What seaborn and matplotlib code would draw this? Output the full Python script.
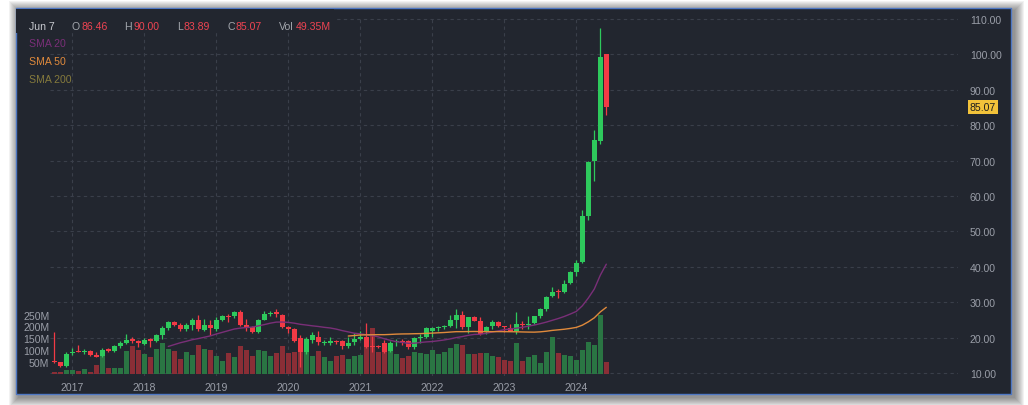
import numpy as np
import pandas as pd
import matplotlib
matplotlib.use("Agg")
import matplotlib.pyplot as plt
import matplotlib.transforms as mtransforms
from matplotlib.patches import Rectangle
import seaborn as sns

# ---------------- data (monthly candles, Oct 2016 .. Jun 2024) ----------------
months = pd.date_range("2016-10-01", "2024-06-01", freq="MS")

opens = [13.5, 13.0, 12.0, 15.6, 16.3, 16.0, 16.3, 15.2, 14.7, 16.8,
         16.3, 17.6, 18.5, 19.5, 18.9, 18.2, 19.5, 18.9, 20.7, 22.7,
         24.3, 23.6, 22.4, 23.6, 25.1, 22.2, 23.6, 22.4, 25.0, 25.9,
         26.0, 27.1, 23.6, 22.9, 21.5, 25.1, 26.8, 27.1, 26.4, 22.9,
         22.4, 19.8, 16.0, 19.3, 20.1, 18.5, 18.5, 18.9, 18.9, 17.5,
         18.7, 19.7, 20.1, 17.6, 17.6, 18.4, 16.3, 18.8, 19.0, 18.9,
         17.3, 19.9, 20.3, 22.0, 22.7, 22.9, 23.4, 25.1, 26.3, 23.1,
         25.7, 24.6, 21.5, 23.2, 24.3, 23.2, 22.8, 22.0, 23.9, 23.6,
         24.1, 26.2, 28.1, 31.7, 33.3, 32.8, 35.3, 38.4, 41.3, 54.4,
         70.0, 75.6, 100.1]
highs = [21.6, 13.2, 15.9, 17.0, 18.0, 16.8, 16.5, 16.0, 17.0, 17.2,
         18.0, 18.9, 21.0, 20.2, 19.2, 19.8, 19.8, 21.0, 23.3, 24.6,
         24.8, 24.0, 24.0, 25.6, 26.4, 25.2, 25.0, 25.8, 26.4, 26.7,
         27.4, 27.7, 25.3, 23.2, 25.2, 27.4, 27.6, 28.1, 26.6, 23.3,
         22.8, 20.8, 20.2, 21.5, 21.9, 19.3, 20.1, 19.2, 19.3, 20.1,
         21.4, 22.0, 24.1, 20.5, 17.9, 19.2, 19.0, 19.6, 19.5, 19.3,
         20.1, 21.0, 22.9, 22.9, 23.3, 23.5, 26.4, 28.1, 27.6, 25.7,
         26.0, 25.7, 23.3, 25.0, 24.6, 23.4, 23.9, 27.1, 24.8, 26.0,
         26.2, 28.5, 31.8, 34.2, 33.7, 36.4, 38.9, 41.8, 56.1, 69.9,
         78.6, 107.4, 100.1]
lows = [12.8, 11.6, 11.8, 15.1, 15.9, 15.4, 14.8, 14.4, 14.5, 15.9,
        15.9, 17.2, 18.2, 18.5, 17.3, 17.8, 17.3, 18.7, 19.7, 22.2,
        23.3, 22.0, 21.8, 22.1, 22.0, 21.8, 20.8, 22.0, 24.6, 24.4,
        25.4, 23.3, 21.9, 21.3, 21.3, 24.9, 26.2, 25.7, 22.8, 21.4,
        18.8, 11.6, 15.5, 18.5, 18.0, 17.9, 18.0, 18.2, 16.8, 17.2,
        18.0, 19.2, 17.0, 16.0, 17.0, 15.7, 15.9, 17.7, 17.9, 16.8,
        16.8, 18.6, 20.0, 20.3, 22.0, 22.5, 22.9, 22.7, 22.3, 21.2,
        24.6, 20.6, 21.0, 22.4, 23.0, 21.6, 21.8, 21.0, 22.4, 22.5,
        23.8, 25.6, 27.6, 31.5, 31.1, 32.6, 35.1, 37.5, 41.2, 53.3,
        64.2, 74.7, 83.0]
closes = [13.0, 12.0, 15.4, 16.0, 16.0, 16.2, 15.0, 14.6, 16.5, 16.3,
          17.7, 18.5, 19.4, 19.0, 18.4, 19.3, 18.9, 20.6, 22.7, 24.4,
          23.6, 22.4, 23.6, 25.1, 22.4, 23.6, 22.7, 25.1, 26.0, 25.7,
          27.1, 23.6, 22.7, 21.5, 25.0, 26.7, 27.0, 26.7, 23.1, 22.4,
          19.1, 16.0, 19.5, 20.6, 18.7, 18.8, 19.0, 18.7, 17.5, 18.5,
          19.7, 20.1, 17.3, 17.4, 17.3, 15.9, 18.4, 19.0, 18.8, 17.3,
          19.9, 20.1, 22.7, 22.8, 22.9, 23.4, 25.0, 26.3, 22.9, 25.7,
          24.8, 21.0, 22.9, 24.4, 23.4, 23.0, 22.0, 23.9, 23.7, 23.9,
          26.1, 28.0, 31.4, 33.0, 33.0, 35.1, 38.6, 41.1, 54.4, 69.7,
          75.8, 99.2, 85.07]
volumes_m = [5, 5, 15, 15, 9, 19, 5, 36, 100, 22,
             23, 23, 94, 118, 100, 82, 70, 102, 130, 102,
             97, 61, 90, 77, 122, 105, 98, 73, 55, 86,
             68, 118, 101, 73, 101, 97, 75, 86, 118, 86,
             93, 111, 104, 75, 97, 68, 52, 73, 80, 61,
             75, 78, 151, 192, 92, 110, 105, 81, 67, 76,
             92, 86, 82, 101, 82, 92, 106, 127, 122, 82,
             83, 86, 86, 75, 68, 57, 52, 128, 52, 68,
             78, 44, 90, 156, 86, 80, 75, 57, 101, 135,
             122, 248, 49.35]

price_ticks = [10, 20, 30, 40, 50, 60, 70, 80, 90, 100, 110]
volume_ticks = [50, 100, 150, 200, 250]
volume_tick_labels = ["50M", "100M", "150M", "200M", "250M"]
header_date = "Jun 7"
header_keys = ["O", "H", "L", "C", "Vol"]
header_vals = ["86.46", "90.00", "83.89", "85.07", "49.35M"]
sma_names = ["SMA 20", "SMA 50", "SMA 200"]
sma_windows = [20, 50, 200]

# ---------------- style ----------------
sns.set_style("dark")
plt.rcParams["font.family"] = ["Liberation Sans", "DejaVu Sans"]

W, H = 1028, 406
BG = "#22262f"
GRID = "#3a3f4a"
UP, DN = "#2ec95c", "#f23a45"
VUP, VDN = "#2a7543", "#8a2e36"
TXT = "#9a9ea8"
SMA_COL = ["#7a2f78", "#e08a3c", "#857a3c"]
FS = 7.6

df = pd.DataFrame({"month": months, "open": opens, "high": highs,
                   "low": lows, "close": closes, "vol": volumes_m})
df["i"] = np.arange(len(df))
df["dir"] = np.where(df["close"] >= df["open"], "up", "down")
for w in sma_windows:
    df[f"sma{w}"] = df["close"].rolling(w).mean()

year_pos = df.loc[df["month"].dt.month == 1, "i"].tolist()
year_lab = df.loc[df["month"].dt.month == 1, "month"].dt.year.astype(str).tolist()

fig = plt.figure(figsize=(W / 100, H / 100), dpi=100, facecolor="white")

# panel with drop shadow and border (pixel geometry)
PX0, PY0, PX1, PY1 = 16, 9, 1011, 395
for s in range(10, 0, -1):
    fig.add_artist(Rectangle(((PX0 - s + 3) / W, 1 - (PY1 + s + 3) / H),
                             (PX1 - PX0 + 2 * s) / W, (PY1 - PY0 + 2 * s) / H,
                             transform=fig.transFigure, facecolor="black",
                             alpha=0.05, edgecolor="none", zorder=-6))
fig.add_artist(Rectangle((PX0 / W, 1 - PY1 / H), (PX1 - PX0) / W, (PY1 - PY0) / H,
                         transform=fig.transFigure, facecolor=BG,
                         edgecolor="#4f78c4", linewidth=1.0, zorder=-5))

# axes box (pixels)
AL, AR, AT, AB = 50, 958, 17, 377
rect = (AL / W, 1 - AB / H, (AR - AL) / W, (AB - AT) / H)
# scale geometry: price 110 at y=20, 10 at y=374; volume 0 at y=374.5, 0.236 px per M
ppx = 100 / 354.0
p_lo, p_hi = 10 - (AB - 374) * ppx, 110 + (20 - AT) * ppx
v_lo, v_hi = -(AB - 374.5) / 0.236, (374.5 - AT) / 0.236
x_lo, x_hi = (AL - 54.3) / 6.0, (AR - 54.3) / 6.0

# grid axes (bottom)
axg = fig.add_axes(rect, zorder=0)
axg.set_facecolor("none")
axg.set_xlim(x_lo, x_hi)
axg.set_ylim(p_lo, p_hi)
axg.set_xticks(year_pos)
axg.set_yticks(price_ticks)
axg.grid(True, color=GRID, linestyle=(0, (3, 3)), linewidth=0.8)
axg.tick_params(length=0, labelbottom=False, labelleft=False)
for sp in axg.spines.values():
    sp.set_visible(False)

# volume axes
axv = fig.add_axes(rect, zorder=1)
axv.patch.set_visible(False)
sns.barplot(data=df, x="i", y="vol", hue="dir", palette={"up": VUP, "down": VDN},
            native_scale=True, dodge=False, width=0.84, saturation=1,
            errorbar=None, legend=False, linewidth=0, ax=axv)
axv.set_xlim(x_lo, x_hi)
axv.set_ylim(v_lo, v_hi)
axv.set_yticks(volume_ticks)
axv.set_yticklabels(volume_tick_labels)
axv.set_xticks(year_pos)
axv.set_xticklabels(year_lab)
axv.set_xlabel("")
axv.set_ylabel("")
axv.tick_params(axis="y", length=0, pad=0.5, colors=TXT, labelsize=FS)
axv.tick_params(axis="x", length=0, pad=4.5, colors=TXT, labelsize=FS)
axv.grid(False)
for sp in axv.spines.values():
    sp.set_visible(False)

# price axes (top)
ax = fig.add_axes(rect, zorder=2)
ax.patch.set_visible(False)
cols = np.where(df["dir"] == "up", UP, DN)
ax.vlines(df["i"], df["low"], df["high"], colors=cols, linewidth=0.9)
body_lo = np.minimum(df["open"], df["close"])
body_h = np.maximum(np.abs(df["close"] - df["open"]), 0.28)
ax.bar(df["i"], body_h, bottom=body_lo, width=0.8, color=cols, linewidth=0)
for w, c in zip(sma_windows, SMA_COL):
    sub = df.dropna(subset=[f"sma{w}"])
    if len(sub):
        sns.lineplot(data=sub, x="i", y=f"sma{w}", color=c, linewidth=1.0,
                     estimator=None, ax=ax)
ax.set_xlim(x_lo, x_hi)
ax.set_ylim(p_lo, p_hi)
ax.set_yticks(price_ticks)
ax.set_yticklabels([f"{t:.2f}" for t in price_ticks])
ax.yaxis.tick_right()
ax.tick_params(axis="y", length=0, pad=8.6, colors=TXT, labelsize=FS)
ax.set_xticks([])
ax.set_xlabel("")
ax.set_ylabel("")
ax.grid(False)
for sp in ax.spines.values():
    sp.set_visible(False)

# last price marker
trans = mtransforms.blended_transform_factory(ax.transAxes, ax.transData)
ax.text(1 + 11.5 / (AR - AL), df["close"].iloc[-1], f"{df['close'].iloc[-1]:.2f}",
        transform=trans, ha="left", va="center", fontsize=FS, color="#1e1e1e",
        clip_on=False,
        bbox=dict(boxstyle="square,pad=0.18", facecolor="#f2c23a", edgecolor="none"))

# header legend box (covers grid)
fig.add_artist(Rectangle((PX0 / W, 1 - 34 / H), (334 - PX0) / W, (34 - PY0 - 1) / H,
                         transform=fig.transFigure, facecolor=BG, edgecolor="none",
                         zorder=0.5))


def ftext(x, y, s, color, **kw):
    fig.text(x / W, 1 - y / H, s, color=color, fontsize=FS, ha="left",
             va="center", zorder=5, **kw)


ftext(29, 27, header_date, "#c8cad0")
key_x = [72, 124, 177, 228, 279]
val_x = [81, 133, 184, 236, 296]
for k, v, kx, vx in zip(header_keys, header_vals, key_x, val_x):
    ftext(kx, 27, k, "#a3a6ad")
    ftext(vx, 27, v, "#ef4452")
for name, c, yy in zip(sma_names, SMA_COL, [44, 62, 80]):
    ftext(29, yy, name, c)

fig.savefig("out.png", dpi=100, facecolor="white")
